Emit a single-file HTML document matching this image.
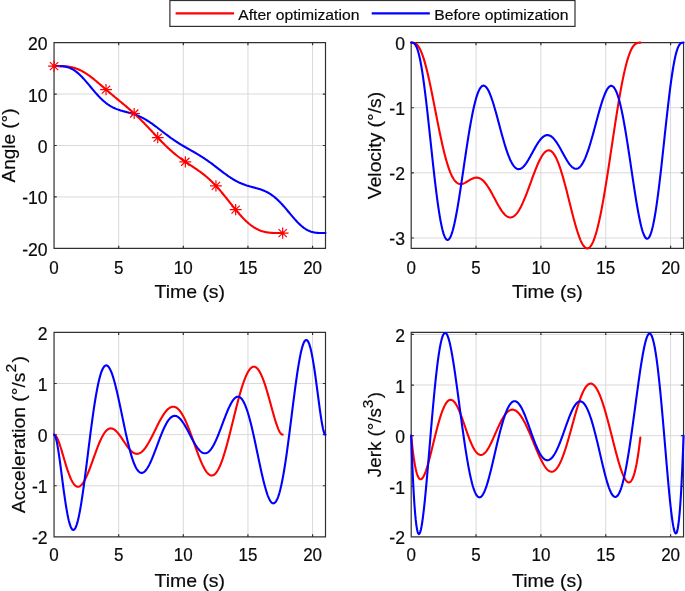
<!DOCTYPE html>
<html><head><meta charset="utf-8"><title>Trajectory optimization</title>
<style>html,body{margin:0;padding:0;background:#fff;overflow:hidden}svg{display:block;will-change:transform}text{font-family:"Liberation Sans",sans-serif;fill:#0a0a0a;stroke:#0a0a0a;stroke-width:0.2px}</style></head>
<body>
<svg width="685" height="591" viewBox="0 0 685 591">
<rect width="685" height="591" fill="#fff"/>
<g>
<path d="M118.68 42.6V248.4M183.31 42.6V248.4M247.94 42.6V248.4M312.57 42.6V248.4M54.05 94.05H325.5M54.05 145.5H325.5M54.05 196.95H325.5" stroke="#d9d9d9" stroke-width="1" fill="none"/>
<path d="M54.05 42.6H325.5V248.4H54.05ZM54.05 248.4v-2.7M54.05 42.6v2.7M118.68 248.4v-2.7M118.68 42.6v2.7M183.31 248.4v-2.7M183.31 42.6v2.7M247.94 248.4v-2.7M247.94 42.6v2.7M312.57 248.4v-2.7M312.57 42.6v2.7M54.05 42.6h2.7M325.5 42.6h-2.7M54.05 94.05h2.7M325.5 94.05h-2.7M54.05 145.5h2.7M325.5 145.5h-2.7M54.05 196.95h2.7M325.5 196.95h-2.7M54.05 248.4h2.7M325.5 248.4h-2.7" stroke="#303030" stroke-width="1.2" fill="none" stroke-linecap="butt"/>
<polyline points="54.05,66.06 54.7,66.06 55.34,66.06 55.99,66.06 56.63,66.06 57.28,66.06 57.92,66.07 58.57,66.07 59.22,66.07 59.86,66.08 60.51,66.09 61.15,66.1 61.8,66.12 62.45,66.14 63.09,66.17 63.74,66.2 64.38,66.23 65.03,66.28 65.67,66.33 66.32,66.38 66.97,66.45 67.61,66.52 68.26,66.6 68.9,66.7 69.55,66.8 70.19,66.91 70.84,67.03 71.49,67.17 72.13,67.31 72.78,67.47 73.42,67.64 74.07,67.82 74.72,68.01 75.36,68.22 76.01,68.44 76.65,68.67 77.3,68.92 77.94,69.17 78.59,69.45 79.24,69.73 79.88,70.03 80.53,70.34 81.17,70.66 81.82,71 82.47,71.35 83.11,71.71 83.76,72.08 84.4,72.46 85.05,72.86 85.69,73.27 86.34,73.69 86.99,74.12 87.63,74.55 88.28,75 88.92,75.46 89.57,75.93 90.21,76.41 90.86,76.89 91.51,77.38 92.15,77.88 92.8,78.39 93.44,78.9 94.09,79.42 94.74,79.95 95.38,80.48 96.03,81.01 96.67,81.55 97.32,82.09 97.96,82.64 98.61,83.19 99.26,83.74 99.9,84.29 100.55,84.84 101.19,85.4 101.84,85.96 102.48,86.52 103.13,87.07 103.78,87.63 104.42,88.19 105.07,88.75 105.71,89.3 106.36,89.86 107.01,90.42 107.65,90.97 108.3,91.52 108.94,92.07 109.59,92.62 110.23,93.17 110.88,93.72 111.53,94.26 112.17,94.81 112.82,95.35 113.46,95.89 114.11,96.43 114.76,96.97 115.4,97.51 116.05,98.04 116.69,98.58 117.34,99.11 117.98,99.64 118.63,100.18 119.28,100.71 119.92,101.24 120.57,101.78 121.21,102.31 121.86,102.84 122.5,103.38 123.15,103.92 123.8,104.45 124.44,104.99 125.09,105.53 125.73,106.08 126.38,106.62 127.03,107.17 127.67,107.73 128.32,108.28 128.96,108.84 129.61,109.4 130.25,109.96 130.9,110.53 131.55,111.11 132.19,111.68 132.84,112.26 133.48,112.85 134.13,113.44 134.77,114.04 135.42,114.64 136.07,115.24 136.71,115.85 137.36,116.46 138,117.08 138.65,117.71 139.3,118.34 139.94,118.97 140.59,119.61 141.23,120.25 141.88,120.9 142.52,121.55 143.17,122.2 143.82,122.86 144.46,123.53 145.11,124.19 145.75,124.86 146.4,125.54 147.04,126.21 147.69,126.89 148.34,127.57 148.98,128.26 149.63,128.94 150.27,129.63 150.92,130.32 151.57,131.01 152.21,131.7 152.86,132.39 153.5,133.08 154.15,133.77 154.79,134.45 155.44,135.14 156.09,135.83 156.73,136.52 157.38,137.2 158.02,137.88 158.67,138.56 159.32,139.23 159.96,139.91 160.61,140.58 161.25,141.24 161.9,141.9 162.54,142.56 163.19,143.21 163.84,143.86 164.48,144.5 165.13,145.13 165.77,145.77 166.42,146.39 167.06,147.01 167.71,147.62 168.36,148.23 169,148.83 169.65,149.42 170.29,150.01 170.94,150.59 171.59,151.16 172.23,151.73 172.88,152.29 173.52,152.84 174.17,153.38 174.81,153.92 175.46,154.45 176.11,154.97 176.75,155.49 177.4,156 178.04,156.51 178.69,157 179.33,157.49 179.98,157.98 180.63,158.46 181.27,158.93 181.92,159.4 182.56,159.86 183.21,160.32 183.86,160.77 184.5,161.22 185.15,161.67 185.79,162.11 186.44,162.55 187.08,162.98 187.73,163.41 188.38,163.84 189.02,164.27 189.67,164.7 190.31,165.12 190.96,165.55 191.61,165.97 192.25,166.4 192.9,166.83 193.54,167.25 194.19,167.68 194.83,168.11 195.48,168.55 196.13,168.99 196.77,169.43 197.42,169.87 198.06,170.32 198.71,170.78 199.35,171.24 200,171.7 200.65,172.17 201.29,172.65 201.94,173.14 202.58,173.63 203.23,174.13 203.88,174.64 204.52,175.15 205.17,175.68 205.81,176.21 206.46,176.75 207.1,177.31 207.75,177.87 208.4,178.44 209.04,179.02 209.69,179.61 210.33,180.21 210.98,180.82 211.62,181.45 212.27,182.08 212.92,182.72 213.56,183.37 214.21,184.03 214.85,184.71 215.5,185.39 216.15,186.08 216.79,186.78 217.44,187.49 218.08,188.21 218.73,188.94 219.37,189.68 220.02,190.43 220.67,191.18 221.31,191.94 221.96,192.71 222.6,193.48 223.25,194.26 223.89,195.05 224.54,195.84 225.19,196.64 225.83,197.44 226.48,198.24 227.12,199.05 227.77,199.86 228.42,200.67 229.06,201.48 229.71,202.29 230.35,203.1 231,203.91 231.64,204.72 232.29,205.53 232.94,206.34 233.58,207.14 234.23,207.93 234.87,208.73 235.52,209.51 236.17,210.3 236.81,211.07 237.46,211.84 238.1,212.6 238.75,213.35 239.39,214.09 240.04,214.82 240.69,215.54 241.33,216.25 241.98,216.95 242.62,217.64 243.27,218.32 243.91,218.98 244.56,219.63 245.21,220.26 245.85,220.88 246.5,221.49 247.14,222.08 247.79,222.65 248.44,223.21 249.08,223.76 249.73,224.28 250.37,224.8 251.02,225.29 251.66,225.77 252.31,226.23 252.96,226.67 253.6,227.1 254.25,227.51 254.89,227.9 255.54,228.28 256.18,228.64 256.83,228.98 257.48,229.31 258.12,229.61 258.77,229.91 259.41,230.18 260.06,230.44 260.71,230.69 261.35,230.92 262,231.13 262.64,231.33 263.29,231.52 263.93,231.69 264.58,231.85 265.23,231.99 265.87,232.13 266.52,232.25 267.16,232.36 267.81,232.46 268.46,232.55 269.1,232.63 269.75,232.7 270.39,232.76 271.04,232.81 271.68,232.86 272.33,232.9 272.98,232.93 273.62,232.96 274.27,232.99 274.91,233 275.56,233.02 276.2,233.03 276.85,233.04 277.5,233.05 278.14,233.05 278.79,233.05 279.43,233.06 280.08,233.06 280.73,233.06 281.37,233.06 282.02,233.06 282.66,233.06" fill="none" stroke="#ff0000" stroke-width="2.1" stroke-linejoin="round" stroke-linecap="round"/>
<polyline points="54.05,66.06 54.7,66.06 55.34,66.06 55.99,66.06 56.64,66.06 57.28,66.07 57.93,66.07 58.57,66.08 59.22,66.09 59.87,66.11 60.51,66.14 61.16,66.17 61.81,66.22 62.45,66.27 63.1,66.33 63.74,66.41 64.39,66.5 65.04,66.61 65.68,66.73 66.33,66.87 66.98,67.03 67.62,67.21 68.27,67.41 68.92,67.63 69.56,67.87 70.21,68.13 70.85,68.42 71.5,68.73 72.15,69.06 72.79,69.42 73.44,69.8 74.09,70.21 74.73,70.64 75.38,71.09 76.02,71.56 76.67,72.06 77.32,72.59 77.96,73.13 78.61,73.69 79.26,74.28 79.9,74.89 80.55,75.51 81.19,76.16 81.84,76.82 82.49,77.5 83.13,78.19 83.78,78.9 84.43,79.62 85.07,80.35 85.72,81.09 86.37,81.84 87.01,82.6 87.66,83.37 88.3,84.14 88.95,84.91 89.6,85.69 90.24,86.47 90.89,87.25 91.54,88.03 92.18,88.8 92.83,89.57 93.47,90.34 94.12,91.1 94.77,91.86 95.41,92.6 96.06,93.34 96.71,94.07 97.35,94.79 98,95.49 98.65,96.18 99.29,96.86 99.94,97.53 100.58,98.18 101.23,98.81 101.88,99.43 102.52,100.04 103.17,100.63 103.82,101.2 104.46,101.75 105.11,102.29 105.75,102.81 106.4,103.31 107.05,103.79 107.69,104.26 108.34,104.71 108.99,105.14 109.63,105.56 110.28,105.95 110.93,106.34 111.57,106.7 112.22,107.05 112.86,107.39 113.51,107.71 114.16,108.02 114.8,108.31 115.45,108.59 116.1,108.86 116.74,109.12 117.39,109.36 118.03,109.6 118.68,109.82 119.33,110.04 119.97,110.25 120.62,110.45 121.27,110.64 121.91,110.83 122.56,111.02 123.21,111.2 123.85,111.37 124.5,111.55 125.14,111.72 125.79,111.89 126.44,112.06 127.08,112.23 127.73,112.4 128.38,112.57 129.02,112.75 129.67,112.93 130.31,113.11 130.96,113.3 131.61,113.49 132.25,113.68 132.9,113.89 133.55,114.1 134.19,114.31 134.84,114.54 135.49,114.77 136.13,115.01 136.78,115.26 137.42,115.51 138.07,115.78 138.72,116.05 139.36,116.34 140.01,116.63 140.66,116.93 141.3,117.25 141.95,117.57 142.59,117.9 143.24,118.24 143.89,118.59 144.53,118.95 145.18,119.32 145.83,119.7 146.47,120.09 147.12,120.48 147.76,120.89 148.41,121.3 149.06,121.72 149.7,122.15 150.35,122.59 151,123.03 151.64,123.48 152.29,123.93 152.94,124.4 153.58,124.86 154.23,125.34 154.87,125.81 155.52,126.29 156.17,126.78 156.81,127.27 157.46,127.76 158.11,128.25 158.75,128.75 159.4,129.25 160.04,129.74 160.69,130.24 161.34,130.74 161.98,131.24 162.63,131.74 163.28,132.24 163.92,132.74 164.57,133.23 165.22,133.73 165.86,134.22 166.51,134.71 167.15,135.19 167.8,135.68 168.45,136.16 169.09,136.63 169.74,137.1 170.39,137.57 171.03,138.04 171.68,138.49 172.32,138.95 172.97,139.4 173.62,139.85 174.26,140.29 174.91,140.72 175.56,141.15 176.2,141.58 176.85,142 177.5,142.42 178.14,142.83 178.79,143.24 179.43,143.65 180.08,144.05 180.73,144.44 181.37,144.84 182.02,145.22 182.67,145.61 183.31,145.99 183.96,146.37 184.6,146.75 185.25,147.12 185.9,147.49 186.54,147.86 187.19,148.23 187.84,148.6 188.48,148.97 189.13,149.33 189.77,149.7 190.42,150.06 191.07,150.43 191.71,150.8 192.36,151.16 193.01,151.53 193.65,151.9 194.3,152.27 194.95,152.65 195.59,153.02 196.24,153.4 196.88,153.78 197.53,154.17 198.18,154.56 198.82,154.95 199.47,155.34 200.12,155.74 200.76,156.14 201.41,156.55 202.05,156.96 202.7,157.38 203.35,157.8 203.99,158.23 204.64,158.66 205.29,159.09 205.93,159.53 206.58,159.98 207.23,160.43 207.87,160.88 208.52,161.34 209.16,161.8 209.81,162.27 210.46,162.74 211.1,163.21 211.75,163.69 212.4,164.17 213.04,164.65 213.69,165.14 214.33,165.63 214.98,166.12 215.63,166.62 216.27,167.11 216.92,167.61 217.57,168.11 218.21,168.61 218.86,169.11 219.51,169.6 220.15,170.1 220.8,170.6 221.44,171.09 222.09,171.58 222.74,172.08 223.38,172.56 224.03,173.05 224.68,173.53 225.32,174 225.97,174.47 226.61,174.94 227.26,175.4 227.91,175.86 228.55,176.31 229.2,176.75 229.85,177.18 230.49,177.61 231.14,178.03 231.79,178.45 232.43,178.85 233.08,179.25 233.72,179.63 234.37,180.01 235.02,180.38 235.66,180.74 236.31,181.09 236.96,181.43 237.6,181.77 238.25,182.09 238.89,182.4 239.54,182.7 240.19,183 240.83,183.28 241.48,183.56 242.13,183.82 242.77,184.08 243.42,184.33 244.06,184.57 244.71,184.8 245.36,185.03 246,185.24 246.65,185.46 247.3,185.66 247.94,185.86 248.59,186.05 249.24,186.24 249.88,186.42 250.53,186.6 251.17,186.78 251.82,186.95 252.47,187.12 253.11,187.3 253.76,187.47 254.41,187.64 255.05,187.81 255.7,187.98 256.34,188.16 256.99,188.34 257.64,188.53 258.28,188.71 258.93,188.91 259.58,189.11 260.22,189.32 260.87,189.54 261.52,189.76 262.16,190 262.81,190.24 263.45,190.5 264.1,190.77 264.75,191.05 265.39,191.34 266.04,191.65 266.69,191.97 267.33,192.3 267.98,192.65 268.62,193.02 269.27,193.4 269.92,193.79 270.56,194.21 271.21,194.64 271.86,195.09 272.5,195.55 273.15,196.03 273.8,196.53 274.44,197.05 275.09,197.58 275.73,198.13 276.38,198.7 277.03,199.28 277.67,199.88 278.32,200.5 278.97,201.13 279.61,201.78 280.26,202.44 280.9,203.12 281.55,203.81 282.2,204.51 282.84,205.22 283.49,205.94 284.14,206.68 284.78,207.42 285.43,208.17 286.08,208.93 286.72,209.69 287.37,210.46 288.01,211.23 288.66,212 289.31,212.78 289.95,213.55 290.6,214.32 291.25,215.09 291.89,215.86 292.54,216.62 293.18,217.38 293.83,218.12 294.48,218.86 295.12,219.59 295.77,220.3 296.42,221 297.06,221.69 297.71,222.37 298.36,223.02 299,223.66 299.65,224.29 300.29,224.89 300.94,225.47 301.59,226.03 302.23,226.57 302.88,227.09 303.53,227.59 304.17,228.06 304.82,228.51 305.46,228.94 306.11,229.34 306.76,229.72 307.4,230.07 308.05,230.41 308.7,230.71 309.34,231 309.99,231.26 310.63,231.5 311.28,231.72 311.93,231.92 312.57,232.09 313.22,232.25 313.87,232.39 314.51,232.51 315.16,232.62 315.81,232.71 316.45,232.79 317.1,232.85 317.74,232.9 318.39,232.95 319.04,232.98 319.68,233.01 320.33,233.02 320.98,233.04 321.62,233.05 322.27,233.05 322.91,233.06 323.56,233.06 324.21,233.06 324.85,233.06 325.5,233.06" fill="none" stroke="#0000ff" stroke-width="2.1" stroke-linejoin="round" stroke-linecap="round"/>
<path d="M54.05 60.46V71.66M48.15 66.06H59.95M49.88 62.06L58.22 70.06M49.88 70.06L58.22 62.06M106.03 83.97V95.17M100.13 89.57H111.93M101.85 85.57L110.2 93.57M101.85 93.57L110.2 85.57M134.18 107.89V119.09M128.28 113.49H140.08M130.01 109.49L138.35 117.49M130.01 117.49L138.35 109.49M157.73 131.97V143.17M151.83 137.57H163.63M153.56 133.57L161.9 141.57M153.56 141.57L161.9 133.57M185.34 156.2V167.4M179.44 161.8H191.24M181.17 157.8L189.51 165.8M181.17 165.8L189.51 157.8M215.94 180.26V191.46M210.04 185.86H221.84M211.77 181.86L220.11 189.86M211.77 189.86L220.11 181.86M235.66 204.09V215.29M229.76 209.69H241.56M231.49 205.69L239.83 213.69M231.49 213.69L239.83 205.69M282.66 227.46V238.66M276.76 233.06H288.56M278.49 229.06L286.83 237.06M278.49 237.06L286.83 229.06" stroke="#ff0000" stroke-width="1.2" fill="none"/>
<text transform="translate(54.05 273.5) scale(0.965 1)" font-size="17.6" text-anchor="middle">0</text>
<text transform="translate(118.68 273.5) scale(0.965 1)" font-size="17.6" text-anchor="middle">5</text>
<text transform="translate(183.31 273.5) scale(0.965 1)" font-size="17.6" text-anchor="middle">10</text>
<text transform="translate(247.94 273.5) scale(0.965 1)" font-size="17.6" text-anchor="middle">15</text>
<text transform="translate(312.57 273.5) scale(0.965 1)" font-size="17.6" text-anchor="middle">20</text>
<text transform="translate(47.65 50.1) scale(1.0 1)" font-size="17.6" text-anchor="end">20</text>
<text transform="translate(47.65 101.55) scale(1.0 1)" font-size="17.6" text-anchor="end">10</text>
<text transform="translate(47.65 153) scale(1.0 1)" font-size="17.6" text-anchor="end">0</text>
<text transform="translate(47.65 204.45) scale(1.0 1)" font-size="17.6" text-anchor="end">-10</text>
<text transform="translate(47.65 255.9) scale(1.0 1)" font-size="17.6" text-anchor="end">-20</text>
<text transform="translate(189.78 297.6) scale(1.0 0.958)" font-size="19.45" text-anchor="middle">Time (s)</text>
<text transform="translate(14.7 145.5) rotate(-90) scale(1 0.958)" font-size="18.95" text-anchor="middle">Angle (°)</text>
</g>
<g>
<path d="M476.05 42.6V248.4M540.89 42.6V248.4M605.74 42.6V248.4M670.58 42.6V248.4M411.2 107.73H683.55M411.2 172.85H683.55M411.2 237.98H683.55" stroke="#d9d9d9" stroke-width="1" fill="none"/>
<path d="M411.2 42.6H683.55V248.4H411.2ZM411.2 248.4v-2.7M411.2 42.6v2.7M476.05 248.4v-2.7M476.05 42.6v2.7M540.89 248.4v-2.7M540.89 42.6v2.7M605.74 248.4v-2.7M605.74 42.6v2.7M670.58 248.4v-2.7M670.58 42.6v2.7M411.2 42.6h2.7M683.55 42.6h-2.7M411.2 107.73h2.7M683.55 107.73h-2.7M411.2 172.85h2.7M683.55 172.85h-2.7M411.2 237.98h2.7M683.55 237.98h-2.7" stroke="#303030" stroke-width="1.2" fill="none" stroke-linecap="butt"/>
<polyline points="411.2,42.6 411.85,42.6 412.5,42.63 413.14,42.69 413.79,42.81 414.44,43.01 415.09,43.28 415.74,43.66 416.38,44.14 417.03,44.74 417.68,45.46 418.33,46.31 418.98,47.29 419.62,48.41 420.27,49.67 420.92,51.07 421.57,52.61 422.21,54.29 422.86,56.1 423.51,58.05 424.16,60.13 424.81,62.34 425.45,64.67 426.1,67.12 426.75,69.67 427.4,72.34 428.05,75.1 428.69,77.95 429.34,80.88 429.99,83.89 430.64,86.97 431.29,90.11 431.93,93.29 432.58,96.52 433.23,99.79 433.88,103.08 434.53,106.39 435.17,109.7 435.82,113.02 436.47,116.32 437.12,119.61 437.77,122.88 438.41,126.11 439.06,129.31 439.71,132.46 440.36,135.55 441.01,138.59 441.65,141.55 442.3,144.45 442.95,147.26 443.6,149.99 444.24,152.63 444.89,155.18 445.54,157.63 446.19,159.98 446.84,162.23 447.48,164.36 448.13,166.39 448.78,168.31 449.43,170.11 450.08,171.8 450.72,173.37 451.37,174.83 452.02,176.17 452.67,177.4 453.32,178.51 453.96,179.52 454.61,180.41 455.26,181.2 455.91,181.88 456.56,182.47 457.2,182.95 457.85,183.34 458.5,183.64 459.15,183.86 459.8,183.99 460.44,184.05 461.09,184.04 461.74,183.97 462.39,183.83 463.04,183.65 463.68,183.41 464.33,183.14 464.98,182.82 465.63,182.48 466.27,182.12 466.92,181.74 467.57,181.35 468.22,180.95 468.87,180.55 469.51,180.16 470.16,179.78 470.81,179.41 471.46,179.07 472.11,178.75 472.75,178.47 473.4,178.22 474.05,178.01 474.7,177.84 475.35,177.72 475.99,177.64 476.64,177.62 477.29,177.66 477.94,177.75 478.59,177.9 479.23,178.1 479.88,178.37 480.53,178.71 481.18,179.1 481.83,179.55 482.47,180.07 483.12,180.65 483.77,181.28 484.42,181.98 485.07,182.73 485.71,183.54 486.36,184.4 487.01,185.31 487.66,186.27 488.3,187.27 488.95,188.31 489.6,189.39 490.25,190.5 490.9,191.64 491.54,192.8 492.19,193.99 492.84,195.19 493.49,196.4 494.14,197.62 494.78,198.84 495.43,200.06 496.08,201.27 496.73,202.47 497.38,203.65 498.02,204.81 498.67,205.94 499.32,207.05 499.97,208.12 500.62,209.15 501.26,210.13 501.91,211.07 502.56,211.96 503.21,212.79 503.86,213.57 504.5,214.28 505.15,214.93 505.8,215.51 506.45,216.02 507.1,216.45 507.74,216.82 508.39,217.1 509.04,217.31 509.69,217.43 510.33,217.48 510.98,217.44 511.63,217.32 512.28,217.12 512.93,216.83 513.57,216.46 514.22,216.01 514.87,215.47 515.52,214.85 516.17,214.15 516.81,213.38 517.46,212.52 518.11,211.59 518.76,210.58 519.41,209.51 520.05,208.36 520.7,207.15 521.35,205.87 522,204.53 522.65,203.14 523.29,201.69 523.94,200.19 524.59,198.64 525.24,197.05 525.89,195.42 526.53,193.76 527.18,192.07 527.83,190.35 528.48,188.61 529.12,186.85 529.77,185.08 530.42,183.3 531.07,181.52 531.72,179.75 532.36,177.98 533.01,176.22 533.66,174.49 534.31,172.77 534.96,171.08 535.6,169.43 536.25,167.81 536.9,166.24 537.55,164.71 538.2,163.24 538.84,161.82 539.49,160.47 540.14,159.18 540.79,157.96 541.44,156.82 542.08,155.76 542.73,154.79 543.38,153.9 544.03,153.1 544.68,152.4 545.32,151.8 545.97,151.29 546.62,150.89 547.27,150.6 547.92,150.42 548.56,150.35 549.21,150.39 549.86,150.54 550.51,150.81 551.15,151.19 551.8,151.69 552.45,152.3 553.1,153.03 553.75,153.88 554.39,154.84 555.04,155.91 555.69,157.09 556.34,158.39 556.99,159.79 557.63,161.29 558.28,162.9 558.93,164.6 559.58,166.4 560.23,168.29 560.87,170.26 561.52,172.32 562.17,174.46 562.82,176.66 563.47,178.94 564.11,181.27 564.76,183.66 565.41,186.1 566.06,188.58 566.71,191.1 567.35,193.65 568,196.22 568.65,198.81 569.3,201.4 569.95,204 570.59,206.59 571.24,209.16 571.89,211.72 572.54,214.24 573.18,216.73 573.83,219.18 574.48,221.57 575.13,223.91 575.78,226.18 576.42,228.37 577.07,230.49 577.72,232.51 578.37,234.45 579.02,236.28 579.66,238 580.31,239.61 580.96,241.1 581.61,242.47 582.26,243.71 582.9,244.81 583.55,245.77 584.2,246.59 584.85,247.25 585.5,247.77 586.14,248.14 586.79,248.34 587.44,248.39 588.09,248.27 588.74,247.99 589.38,247.54 590.03,246.93 590.68,246.15 591.33,245.2 591.98,244.08 592.62,242.8 593.27,241.36 593.92,239.75 594.57,237.97 595.21,236.04 595.86,233.95 596.51,231.7 597.16,229.31 597.81,226.76 598.45,224.07 599.1,221.25 599.75,218.28 600.4,215.19 601.05,211.97 601.69,208.63 602.34,205.18 602.99,201.62 603.64,197.96 604.29,194.2 604.93,190.35 605.58,186.42 606.23,182.42 606.88,178.35 607.53,174.23 608.17,170.05 608.82,165.82 609.47,161.56 610.12,157.27 610.77,152.96 611.41,148.64 612.06,144.32 612.71,140 613.36,135.69 614.01,131.4 614.65,127.14 615.3,122.92 615.95,118.75 616.6,114.62 617.24,110.56 617.89,106.57 618.54,102.65 619.19,98.82 619.84,95.07 620.48,91.43 621.13,87.89 621.78,84.45 622.43,81.14 623.08,77.94 623.72,74.87 624.37,71.93 625.02,69.13 625.67,66.47 626.32,63.95 626.96,61.57 627.61,59.34 628.26,57.26 628.91,55.33 629.56,53.55 630.2,51.92 630.85,50.44 631.5,49.11 632.15,47.92 632.8,46.87 633.44,45.95 634.09,45.17 634.74,44.51 635.39,43.97 636.03,43.54 636.68,43.2 637.33,42.95 637.98,42.79 638.63,42.68 639.27,42.62 639.92,42.6 640.57,42.6" fill="none" stroke="#ff0000" stroke-width="2.1" stroke-linejoin="round" stroke-linecap="round"/>
<polyline points="411.2,42.6 411.85,42.61 412.5,42.68 413.15,42.85 413.79,43.17 414.44,43.69 415.09,44.42 415.74,45.4 416.39,46.66 417.04,48.2 417.68,50.04 418.33,52.19 418.98,54.66 419.63,57.45 420.28,60.54 420.93,63.95 421.58,67.66 422.22,71.66 422.87,75.94 423.52,80.48 424.17,85.27 424.82,90.29 425.47,95.51 426.11,100.92 426.76,106.5 427.41,112.22 428.06,118.06 428.71,123.99 429.36,129.99 430.01,136.04 430.65,142.11 431.3,148.17 431.95,154.2 432.6,160.18 433.25,166.08 433.9,171.88 434.54,177.55 435.19,183.08 435.84,188.45 436.49,193.63 437.14,198.6 437.79,203.35 438.44,207.86 439.08,212.12 439.73,216.11 440.38,219.82 441.03,223.24 441.68,226.36 442.33,229.17 442.97,231.66 443.62,233.83 444.27,235.67 444.92,237.18 445.57,238.36 446.22,239.21 446.86,239.74 447.51,239.93 448.16,239.81 448.81,239.37 449.46,238.62 450.11,237.57 450.76,236.23 451.4,234.6 452.05,232.7 452.7,230.54 453.35,228.13 454,225.48 454.65,222.61 455.29,219.54 455.94,216.27 456.59,212.81 457.24,209.2 457.89,205.43 458.54,201.53 459.19,197.51 459.83,193.39 460.48,189.19 461.13,184.91 461.78,180.57 462.43,176.19 463.08,171.79 463.72,167.38 464.37,162.97 465.02,158.59 465.67,154.23 466.32,149.92 466.97,145.67 467.62,141.49 468.26,137.4 468.91,133.4 469.56,129.51 470.21,125.74 470.86,122.09 471.51,118.59 472.15,115.22 472.8,112.02 473.45,108.97 474.1,106.09 474.75,103.39 475.4,100.87 476.05,98.53 476.69,96.38 477.34,94.43 477.99,92.66 478.64,91.1 479.29,89.73 479.94,88.56 480.58,87.59 481.23,86.82 481.88,86.24 482.53,85.86 483.18,85.66 483.83,85.66 484.48,85.84 485.12,86.2 485.77,86.73 486.42,87.43 487.07,88.3 487.72,89.32 488.37,90.49 489.01,91.8 489.66,93.25 490.31,94.82 490.96,96.51 491.61,98.32 492.26,100.22 492.9,102.22 493.55,104.3 494.2,106.45 494.85,108.68 495.5,110.96 496.15,113.28 496.8,115.65 497.44,118.04 498.09,120.46 498.74,122.89 499.39,125.33 500.04,127.76 500.69,130.17 501.33,132.57 501.98,134.94 502.63,137.27 503.28,139.56 503.93,141.8 504.58,143.99 505.23,146.11 505.87,148.16 506.52,150.14 507.17,152.04 507.82,153.86 508.47,155.59 509.12,157.23 509.76,158.77 510.41,160.21 511.06,161.54 511.71,162.78 512.36,163.9 513.01,164.92 513.66,165.83 514.3,166.63 514.95,167.31 515.6,167.89 516.25,168.36 516.9,168.71 517.55,168.96 518.19,169.1 518.84,169.14 519.49,169.07 520.14,168.91 520.79,168.65 521.44,168.29 522.09,167.84 522.73,167.31 523.38,166.7 524.03,166.01 524.68,165.25 525.33,164.42 525.98,163.53 526.62,162.58 527.27,161.58 527.92,160.54 528.57,159.46 529.22,158.34 529.87,157.19 530.52,156.03 531.16,154.85 531.81,153.65 532.46,152.46 533.11,151.26 533.76,150.07 534.41,148.9 535.05,147.74 535.7,146.61 536.35,145.51 537,144.44 537.65,143.4 538.3,142.42 538.95,141.48 539.59,140.59 540.24,139.76 540.89,138.98 541.54,138.27 542.19,137.63 542.84,137.05 543.48,136.55 544.13,136.11 544.78,135.75 545.43,135.47 546.08,135.27 546.73,135.14 547.38,135.09 548.02,135.12 548.67,135.23 549.32,135.42 549.97,135.69 550.62,136.03 551.27,136.44 551.91,136.93 552.56,137.49 553.21,138.12 553.86,138.82 554.51,139.58 555.16,140.39 555.8,141.27 556.45,142.19 557.1,143.17 557.75,144.19 558.4,145.24 559.05,146.33 559.7,147.46 560.34,148.6 560.99,149.77 561.64,150.94 562.29,152.13 562.94,153.32 563.59,154.5 564.23,155.68 564.88,156.84 565.53,157.98 566.18,159.09 566.83,160.17 567.48,161.21 568.13,162.21 568.77,163.15 569.42,164.04 570.07,164.87 570.72,165.64 571.37,166.33 572.02,166.94 572.66,167.48 573.31,167.93 573.96,168.29 574.61,168.55 575.26,168.73 575.91,168.8 576.56,168.77 577.2,168.64 577.85,168.4 578.5,168.05 579.15,167.6 579.8,167.03 580.45,166.36 581.09,165.57 581.74,164.68 582.39,163.67 583.04,162.56 583.69,161.34 584.34,160.02 584.99,158.59 585.63,157.07 586.28,155.45 586.93,153.74 587.58,151.94 588.23,150.05 588.88,148.09 589.52,146.05 590.17,143.95 590.82,141.78 591.47,139.56 592.12,137.28 592.77,134.97 593.42,132.61 594.06,130.23 594.71,127.83 595.36,125.42 596.01,123 596.66,120.58 597.31,118.18 597.95,115.8 598.6,113.44 599.25,111.13 599.9,108.86 600.55,106.65 601.2,104.5 601.85,102.43 602.49,100.44 603.14,98.55 603.79,96.75 604.44,95.06 605.09,93.49 605.74,92.05 606.38,90.73 607.03,89.56 607.68,88.54 608.33,87.67 608.98,86.97 609.63,86.43 610.27,86.07 610.92,85.88 611.57,85.88 612.22,86.06 612.87,86.43 613.52,86.99 614.17,87.75 614.81,88.71 615.46,89.86 616.11,91.21 616.76,92.75 617.41,94.49 618.06,96.43 618.7,98.55 619.35,100.87 620,103.36 620.65,106.04 621.3,108.89 621.95,111.9 622.6,115.08 623.24,118.41 623.89,121.88 624.54,125.5 625.19,129.24 625.84,133.09 626.49,137.05 627.13,141.11 627.78,145.26 628.43,149.47 629.08,153.74 629.73,158.06 630.38,162.42 631.03,166.79 631.67,171.16 632.32,175.53 632.97,179.87 633.62,184.17 634.27,188.42 634.92,192.59 635.56,196.68 636.21,200.66 636.86,204.53 637.51,208.27 638.16,211.86 638.81,215.28 639.46,218.53 640.1,221.58 640.75,224.42 641.4,227.05 642.05,229.44 642.7,231.58 643.35,233.47 643.99,235.08 644.64,236.41 645.29,237.45 645.94,238.19 646.59,238.62 647.24,238.74 647.89,238.55 648.53,238.02 649.18,237.17 649.83,236 650.48,234.49 651.13,232.66 651.78,230.5 652.42,228.02 653.07,225.23 653.72,222.13 654.37,218.73 655.02,215.05 655.67,211.08 656.32,206.85 656.96,202.36 657.61,197.64 658.26,192.69 658.91,187.55 659.56,182.21 660.21,176.72 660.85,171.08 661.5,165.31 662.15,159.45 662.8,153.51 663.45,147.51 664.1,141.49 664.74,135.46 665.39,129.45 666.04,123.49 666.69,117.59 667.34,111.79 667.99,106.1 668.64,100.56 669.28,95.18 669.93,89.99 670.58,85 671.23,80.24 671.88,75.73 672.53,71.48 673.17,67.5 673.82,63.82 674.47,60.43 675.12,57.35 675.77,54.59 676.42,52.13 677.07,50 677.71,48.16 678.36,46.63 679.01,45.39 679.66,44.41 680.31,43.68 680.96,43.17 681.6,42.85 682.25,42.68 682.9,42.61 683.55,42.6" fill="none" stroke="#0000ff" stroke-width="2.1" stroke-linejoin="round" stroke-linecap="round"/>
<text transform="translate(411.2 273.5) scale(0.965 1)" font-size="17.6" text-anchor="middle">0</text>
<text transform="translate(476.05 273.5) scale(0.965 1)" font-size="17.6" text-anchor="middle">5</text>
<text transform="translate(540.89 273.5) scale(0.965 1)" font-size="17.6" text-anchor="middle">10</text>
<text transform="translate(605.74 273.5) scale(0.965 1)" font-size="17.6" text-anchor="middle">15</text>
<text transform="translate(670.58 273.5) scale(0.965 1)" font-size="17.6" text-anchor="middle">20</text>
<text transform="translate(405 50.1) scale(1.0 1)" font-size="17.6" text-anchor="end">0</text>
<text transform="translate(405 115.23) scale(1.0 1)" font-size="17.6" text-anchor="end">-1</text>
<text transform="translate(405 180.35) scale(1.0 1)" font-size="17.6" text-anchor="end">-2</text>
<text transform="translate(405 245.48) scale(1.0 1)" font-size="17.6" text-anchor="end">-3</text>
<text transform="translate(547.38 297.6) scale(1.0 0.958)" font-size="19.45" text-anchor="middle">Time (s)</text>
<text transform="translate(381.3 145.5) rotate(-90) scale(1 0.958)" font-size="19.3" text-anchor="middle">Velocity (°/s)</text>
</g>
<g>
<path d="M118.68 332.4V536.9M183.31 332.4V536.9M247.94 332.4V536.9M312.57 332.4V536.9M54.05 383.52H325.5M54.05 434.65H325.5M54.05 485.77H325.5" stroke="#d9d9d9" stroke-width="1" fill="none"/>
<path d="M54.05 332.4H325.5V536.9H54.05ZM54.05 536.9v-2.7M54.05 332.4v2.7M118.68 536.9v-2.7M118.68 332.4v2.7M183.31 536.9v-2.7M183.31 332.4v2.7M247.94 536.9v-2.7M247.94 332.4v2.7M312.57 536.9v-2.7M312.57 332.4v2.7M54.05 332.4h2.7M325.5 332.4h-2.7M54.05 383.52h2.7M325.5 383.52h-2.7M54.05 434.65h2.7M325.5 434.65h-2.7M54.05 485.77h2.7M325.5 485.77h-2.7M54.05 536.9h2.7M325.5 536.9h-2.7" stroke="#303030" stroke-width="1.2" fill="none" stroke-linecap="butt"/>
<polyline points="54.05,434.65 54.7,434.82 55.34,435.3 55.99,436.06 56.63,437.08 57.28,438.32 57.92,439.75 58.57,441.36 59.22,443.12 59.86,445 60.51,446.98 61.15,449.05 61.8,451.17 62.45,453.34 63.09,455.53 63.74,457.73 64.38,459.92 65.03,462.09 65.67,464.23 66.32,466.32 66.97,468.35 67.61,470.31 68.26,472.19 68.9,473.98 69.55,475.68 70.19,477.27 70.84,478.75 71.49,480.12 72.13,481.37 72.78,482.49 73.42,483.49 74.07,484.36 74.72,485.09 75.36,485.69 76.01,486.16 76.65,486.5 77.3,486.7 77.94,486.76 78.59,486.7 79.24,486.51 79.88,486.19 80.53,485.74 81.17,485.18 81.82,484.5 82.47,483.71 83.11,482.81 83.76,481.81 84.4,480.7 85.05,479.51 85.69,478.23 86.34,476.87 86.99,475.44 87.63,473.93 88.28,472.37 88.92,470.75 89.57,469.08 90.21,467.37 90.86,465.63 91.51,463.86 92.15,462.07 92.8,460.27 93.44,458.46 94.09,456.65 94.74,454.85 95.38,453.06 96.03,451.3 96.67,449.56 97.32,447.86 97.96,446.2 98.61,444.58 99.26,443.02 99.9,441.51 100.55,440.07 101.19,438.7 101.84,437.4 102.48,436.17 103.13,435.03 103.78,433.97 104.42,432.99 105.07,432.11 105.71,431.32 106.36,430.62 107.01,430.02 107.65,429.51 108.3,429.1 108.94,428.78 109.59,428.55 110.23,428.42 110.88,428.38 111.53,428.43 112.17,428.57 112.82,428.78 113.46,429.08 114.11,429.46 114.76,429.91 115.4,430.43 116.05,431.01 116.69,431.66 117.34,432.36 117.98,433.11 118.63,433.91 119.28,434.75 119.92,435.62 120.57,436.53 121.21,437.46 121.86,438.4 122.5,439.37 123.15,440.34 123.8,441.31 124.44,442.28 125.09,443.25 125.73,444.2 126.38,445.13 127.03,446.03 127.67,446.91 128.32,447.75 128.96,448.56 129.61,449.32 130.25,450.04 130.9,450.7 131.55,451.31 132.19,451.86 132.84,452.34 133.48,452.77 134.13,453.12 134.77,453.41 135.42,453.62 136.07,453.76 136.71,453.83 137.36,453.83 138,453.75 138.65,453.6 139.3,453.37 139.94,453.07 140.59,452.69 141.23,452.25 141.88,451.73 142.52,451.15 143.17,450.5 143.82,449.78 144.46,449.01 145.11,448.17 145.75,447.28 146.4,446.34 147.04,445.34 147.69,444.3 148.34,443.22 148.98,442.09 149.63,440.93 150.27,439.74 150.92,438.52 151.57,437.27 152.21,436 152.86,434.72 153.5,433.42 154.15,432.11 154.79,430.8 155.44,429.48 156.09,428.18 156.73,426.87 157.38,425.58 158.02,424.3 158.67,423.05 159.32,421.81 159.96,420.6 160.61,419.43 161.25,418.28 161.9,417.17 162.54,416.1 163.19,415.08 163.84,414.1 164.48,413.17 165.13,412.29 165.77,411.47 166.42,410.71 167.06,410 167.71,409.36 168.36,408.78 169,408.27 169.65,407.83 170.29,407.46 170.94,407.16 171.59,406.93 172.23,406.78 172.88,406.7 173.52,406.71 174.17,406.79 174.81,406.95 175.46,407.18 176.11,407.5 176.75,407.9 177.4,408.38 178.04,408.93 178.69,409.57 179.33,410.28 179.98,411.07 180.63,411.93 181.27,412.88 181.92,413.89 182.56,414.98 183.21,416.13 183.86,417.35 184.5,418.64 185.15,419.99 185.79,421.4 186.44,422.87 187.08,424.38 187.73,425.95 188.38,427.56 189.02,429.22 189.67,430.91 190.31,432.63 190.96,434.39 191.61,436.16 192.25,437.95 192.9,439.76 193.54,441.58 194.19,443.4 194.83,445.22 195.48,447.03 196.13,448.83 196.77,450.62 197.42,452.38 198.06,454.11 198.71,455.81 199.35,457.47 200,459.09 200.65,460.66 201.29,462.17 201.94,463.63 202.58,465.02 203.23,466.35 203.88,467.6 204.52,468.77 205.17,469.86 205.81,470.87 206.46,471.79 207.1,472.61 207.75,473.33 208.4,473.95 209.04,474.47 209.69,474.88 210.33,475.19 210.98,475.38 211.62,475.45 212.27,475.41 212.92,475.26 213.56,474.98 214.21,474.59 214.85,474.07 215.5,473.44 216.15,472.69 216.79,471.82 217.44,470.84 218.08,469.74 218.73,468.53 219.37,467.2 220.02,465.77 220.67,464.23 221.31,462.6 221.96,460.86 222.6,459.03 223.25,457.11 223.89,455.11 224.54,453.03 225.19,450.87 225.83,448.64 226.48,446.34 227.12,443.99 227.77,441.58 228.42,439.12 229.06,436.62 229.71,434.09 230.35,431.52 231,428.93 231.64,426.32 232.29,423.7 232.94,421.07 233.58,418.45 234.23,415.83 234.87,413.22 235.52,410.63 236.17,408.07 236.81,405.53 237.46,403.04 238.1,400.58 238.75,398.17 239.39,395.82 240.04,393.53 240.69,391.3 241.33,389.14 241.98,387.05 242.62,385.04 243.27,383.12 243.91,381.28 244.56,379.54 245.21,377.89 245.85,376.34 246.5,374.9 247.14,373.56 247.79,372.34 248.44,371.22 249.08,370.23 249.73,369.35 250.37,368.6 251.02,367.97 251.66,367.46 252.31,367.08 252.96,366.83 253.6,366.7 254.25,366.71 254.89,366.84 255.54,367.1 256.18,367.5 256.83,368.02 257.48,368.66 258.12,369.44 258.77,370.33 259.41,371.35 260.06,372.49 260.71,373.74 261.35,375.1 262,376.58 262.64,378.15 263.29,379.83 263.93,381.61 264.58,383.47 265.23,385.42 265.87,387.44 266.52,389.54 267.16,391.7 267.81,393.91 268.46,396.17 269.1,398.47 269.75,400.8 270.39,403.15 271.04,405.51 271.68,407.87 272.33,410.22 272.98,412.54 273.62,414.83 274.27,417.06 274.91,419.23 275.56,421.33 276.2,423.33 276.85,425.23 277.5,427 278.14,428.64 278.79,430.11 279.43,431.42 280.08,432.53 280.73,433.42 281.37,434.09 282.02,434.51 282.66,434.65" fill="none" stroke="#ff0000" stroke-width="2.1" stroke-linejoin="round" stroke-linecap="round"/>
<polyline points="54.05,434.65 54.7,435.11 55.34,436.4 55.99,438.44 56.64,441.13 57.28,444.36 57.93,448.07 58.57,452.16 59.22,456.56 59.87,461.19 60.51,466 61.16,470.91 61.81,475.88 62.45,480.83 63.1,485.74 63.74,490.54 64.39,495.2 65.04,499.67 65.68,503.93 66.33,507.94 66.98,511.67 67.62,515.11 68.27,518.22 68.92,520.99 69.56,523.4 70.21,525.45 70.85,527.12 71.5,528.4 72.15,529.3 72.79,529.8 73.44,529.92 74.09,529.64 74.73,528.99 75.38,527.95 76.02,526.55 76.67,524.78 77.32,522.67 77.96,520.23 78.61,517.46 79.26,514.39 79.9,511.04 80.55,507.42 81.19,503.55 81.84,499.45 82.49,495.14 83.13,490.64 83.78,485.98 84.43,481.18 85.07,476.25 85.72,471.23 86.37,466.13 87.01,460.98 87.66,455.8 88.3,450.61 88.95,445.44 89.6,440.3 90.24,435.22 90.89,430.21 91.54,425.3 92.18,420.5 92.83,415.83 93.47,411.3 94.12,406.94 94.77,402.74 95.41,398.74 96.06,394.93 96.71,391.33 97.35,387.94 98,384.77 98.65,381.83 99.29,379.13 99.94,376.66 100.58,374.44 101.23,372.45 101.88,370.72 102.52,369.23 103.17,367.98 103.82,366.98 104.46,366.23 105.11,365.71 105.75,365.43 106.4,365.38 107.05,365.56 107.69,365.97 108.34,366.59 108.99,367.42 109.63,368.45 110.28,369.68 110.93,371.1 111.57,372.7 112.22,374.47 112.86,376.4 113.51,378.48 114.16,380.71 114.8,383.07 115.45,385.55 116.1,388.14 116.74,390.84 117.39,393.62 118.03,396.49 118.68,399.42 119.33,402.41 119.97,405.45 120.62,408.52 121.27,411.62 121.91,414.73 122.56,417.85 123.21,420.96 123.85,424.05 124.5,427.11 125.14,430.13 125.79,433.11 126.44,436.03 127.08,438.88 127.73,441.66 128.38,444.36 129.02,446.96 129.67,449.47 130.31,451.87 130.96,454.16 131.61,456.34 132.25,458.39 132.9,460.31 133.55,462.11 134.19,463.77 134.84,465.3 135.49,466.69 136.13,467.93 136.78,469.04 137.42,470.01 138.07,470.83 138.72,471.51 139.36,472.05 140.01,472.46 140.66,472.72 141.3,472.85 141.95,472.85 142.59,472.72 143.24,472.46 143.89,472.08 144.53,471.58 145.18,470.97 145.83,470.24 146.47,469.41 147.12,468.48 147.76,467.45 148.41,466.33 149.06,465.13 149.7,463.85 150.35,462.49 151,461.07 151.64,459.59 152.29,458.05 152.94,456.47 153.58,454.84 154.23,453.18 154.87,451.49 155.52,449.78 156.17,448.05 156.81,446.31 157.46,444.57 158.11,442.83 158.75,441.1 159.4,439.39 160.04,437.7 160.69,436.04 161.34,434.41 161.98,432.82 162.63,431.28 163.28,429.79 163.92,428.35 164.57,426.97 165.22,425.66 165.86,424.42 166.51,423.25 167.15,422.15 167.8,421.14 168.45,420.21 169.09,419.36 169.74,418.6 170.39,417.94 171.03,417.36 171.68,416.88 172.32,416.49 172.97,416.19 173.62,415.99 174.26,415.88 174.91,415.86 175.56,415.93 176.2,416.09 176.85,416.34 177.5,416.67 178.14,417.08 178.79,417.58 179.43,418.15 180.08,418.79 180.73,419.51 181.37,420.29 182.02,421.13 182.67,422.04 183.31,422.99 183.96,424 184.6,425.05 185.25,426.15 185.9,427.27 186.54,428.43 187.19,429.62 187.84,430.82 188.48,432.05 189.13,433.28 189.77,434.52 190.42,435.75 191.07,436.99 191.71,438.21 192.36,439.42 193.01,440.61 193.65,441.77 194.3,442.9 194.95,444 195.59,445.05 196.24,446.06 196.88,447.03 197.53,447.94 198.18,448.79 198.82,449.57 199.47,450.3 200.12,450.95 200.76,451.53 201.41,452.03 202.05,452.46 202.7,452.8 203.35,453.06 203.99,453.23 204.64,453.31 205.29,453.3 205.93,453.2 206.58,453.01 207.23,452.72 207.87,452.34 208.52,451.87 209.16,451.31 209.81,450.65 210.46,449.91 211.1,449.07 211.75,448.16 212.4,447.15 213.04,446.07 213.69,444.92 214.33,443.68 214.98,442.38 215.63,441.02 216.27,439.59 216.92,438.11 217.57,436.58 218.21,435.01 218.86,433.39 219.51,431.74 220.15,430.06 220.8,428.36 221.44,426.64 222.09,424.92 222.74,423.18 223.38,421.46 224.03,419.74 224.68,418.03 225.32,416.35 225.97,414.69 226.61,413.07 227.26,411.49 227.91,409.96 228.55,408.48 229.2,407.07 229.85,405.72 230.49,404.44 231.14,403.24 231.79,402.12 232.43,401.09 233.08,400.16 233.72,399.33 234.37,398.6 235.02,397.98 235.66,397.48 236.31,397.09 236.96,396.83 237.6,396.69 238.25,396.68 238.89,396.8 239.54,397.06 240.19,397.45 240.83,397.98 241.48,398.65 242.13,399.47 242.77,400.42 243.42,401.51 244.06,402.74 244.71,404.12 245.36,405.63 246,407.27 246.65,409.05 247.3,410.96 247.94,412.99 248.59,415.15 249.24,417.42 249.88,419.8 250.53,422.29 251.17,424.87 251.82,427.55 252.47,430.31 253.11,433.14 253.76,436.04 254.41,438.99 255.05,441.99 255.7,445.03 256.34,448.1 256.99,451.19 257.64,454.28 258.28,457.37 258.93,460.45 259.58,463.5 260.22,466.52 260.87,469.5 261.52,472.41 262.16,475.26 262.81,478.03 263.45,480.7 264.1,483.28 264.75,485.75 265.39,488.09 266.04,490.31 266.69,492.38 267.33,494.3 267.98,496.06 268.62,497.65 269.27,499.06 269.92,500.29 270.56,501.32 271.21,502.15 271.86,502.77 272.5,503.17 273.15,503.35 273.8,503.31 274.44,503.03 275.09,502.52 275.73,501.77 276.38,500.78 277.03,499.55 277.67,498.07 278.32,496.35 278.97,494.39 279.61,492.18 280.26,489.73 280.9,487.05 281.55,484.13 282.2,480.99 282.84,477.62 283.49,474.05 284.14,470.26 284.78,466.29 285.43,462.12 286.08,457.79 286.72,453.3 287.37,448.66 288.01,443.89 288.66,439.01 289.31,434.04 289.95,428.99 290.6,423.88 291.25,418.74 291.89,413.59 292.54,408.44 293.18,403.33 293.83,398.27 294.48,393.28 295.12,388.39 295.77,383.61 296.42,378.98 297.06,374.52 297.71,370.24 298.36,366.16 299,362.32 299.65,358.72 300.29,355.39 300.94,352.34 301.59,349.6 302.23,347.17 302.88,345.07 303.53,343.32 304.17,341.92 304.82,340.89 305.46,340.24 306.11,339.97 306.76,340.08 307.4,340.59 308.05,341.48 308.7,342.75 309.34,344.41 309.99,346.45 310.63,348.85 311.28,351.6 311.93,354.69 312.57,358.11 313.22,361.82 313.87,365.8 314.51,370.03 315.16,374.48 315.81,379.11 316.45,383.88 317.1,388.75 317.74,393.68 318.39,398.61 319.04,403.5 319.68,408.27 320.33,412.88 320.98,417.25 321.62,421.32 322.27,425 322.91,428.21 323.56,430.88 324.21,432.91 324.85,434.2 325.5,434.65" fill="none" stroke="#0000ff" stroke-width="2.1" stroke-linejoin="round" stroke-linecap="round"/>
<text transform="translate(54.05 561.4) scale(0.965 1)" font-size="17.6" text-anchor="middle">0</text>
<text transform="translate(118.68 561.4) scale(0.965 1)" font-size="17.6" text-anchor="middle">5</text>
<text transform="translate(183.31 561.4) scale(0.965 1)" font-size="17.6" text-anchor="middle">10</text>
<text transform="translate(247.94 561.4) scale(0.965 1)" font-size="17.6" text-anchor="middle">15</text>
<text transform="translate(312.57 561.4) scale(0.965 1)" font-size="17.6" text-anchor="middle">20</text>
<text transform="translate(47.65 339.9) scale(1.0 1)" font-size="17.6" text-anchor="end">2</text>
<text transform="translate(47.65 391.02) scale(1.0 1)" font-size="17.6" text-anchor="end">1</text>
<text transform="translate(47.65 442.15) scale(1.0 1)" font-size="17.6" text-anchor="end">0</text>
<text transform="translate(47.65 493.27) scale(1.0 1)" font-size="17.6" text-anchor="end">-1</text>
<text transform="translate(47.65 544.4) scale(1.0 1)" font-size="17.6" text-anchor="end">-2</text>
<text transform="translate(189.78 586.5) scale(1.0 0.958)" font-size="19.45" text-anchor="middle">Time (s)</text>
<text transform="translate(24.5 434.65) rotate(-90) scale(1 0.958)" font-size="19.3" text-anchor="middle">Acceleration (°/s<tspan dy="-8.4" font-size="15.83">2</tspan><tspan dy="8.4" dx="1.2">)</tspan></text>
</g>
<g>
<path d="M476.05 332.4V536.9M540.89 332.4V536.9M605.74 332.4V536.9M670.58 332.4V536.9M411.2 334.42H683.55M411.2 385.04H683.55M411.2 435.66H683.55M411.2 486.28H683.55" stroke="#d9d9d9" stroke-width="1" fill="none"/>
<path d="M411.2 332.4H683.55V536.9H411.2ZM411.2 536.9v-2.7M411.2 332.4v2.7M476.05 536.9v-2.7M476.05 332.4v2.7M540.89 536.9v-2.7M540.89 332.4v2.7M605.74 536.9v-2.7M605.74 332.4v2.7M670.58 536.9v-2.7M670.58 332.4v2.7M411.2 334.42h2.7M683.55 334.42h-2.7M411.2 385.04h2.7M683.55 385.04h-2.7M411.2 435.66h2.7M683.55 435.66h-2.7M411.2 486.28h2.7M683.55 486.28h-2.7M411.2 536.9h2.7M683.55 536.9h-2.7" stroke="#303030" stroke-width="1.2" fill="none" stroke-linecap="butt"/>
<polyline points="411.2,435.66 411.85,442.18 412.49,448.07 413.14,453.37 413.79,458.09 414.44,462.26 415.08,465.92 415.73,469.07 416.38,471.76 417.03,473.99 417.67,475.8 418.32,477.21 418.97,478.23 419.62,478.9 420.26,479.23 420.91,479.24 421.56,478.96 422.2,478.4 422.85,477.58 423.5,476.53 424.15,475.25 424.79,473.78 425.44,472.12 426.09,470.3 426.74,468.32 427.38,466.22 428.03,463.99 428.68,461.66 429.32,459.25 429.97,456.76 430.62,454.21 431.27,451.62 431.91,448.99 432.56,446.34 433.21,443.69 433.86,441.04 434.5,438.4 435.15,435.78 435.8,433.2 436.45,430.67 437.09,428.19 437.74,425.77 438.39,423.42 439.03,421.15 439.68,418.97 440.33,416.88 440.98,414.88 441.62,413 442.27,411.22 442.92,409.56 443.57,408.02 444.21,406.6 444.86,405.31 445.51,404.15 446.16,403.12 446.8,402.23 447.45,401.48 448.1,400.86 448.74,400.39 449.39,400.05 450.04,399.85 450.69,399.79 451.33,399.87 451.98,400.09 452.63,400.43 453.28,400.91 453.92,401.52 454.57,402.26 455.22,403.11 455.86,404.08 456.51,405.17 457.16,406.36 457.81,407.65 458.45,409.03 459.1,410.51 459.75,412.06 460.4,413.69 461.04,415.38 461.69,417.13 462.34,418.92 462.99,420.76 463.63,422.62 464.28,424.5 464.93,426.38 465.57,428.27 466.22,430.14 466.87,431.99 467.52,433.81 468.16,435.6 468.81,437.34 469.46,439.03 470.11,440.66 470.75,442.23 471.4,443.73 472.05,445.15 472.7,446.49 473.34,447.74 473.99,448.9 474.64,449.97 475.28,450.95 475.93,451.82 476.58,452.59 477.23,453.25 477.87,453.81 478.52,454.26 479.17,454.6 479.82,454.83 480.46,454.95 481.11,454.96 481.76,454.86 482.4,454.66 483.05,454.35 483.7,453.93 484.35,453.42 484.99,452.81 485.64,452.1 486.29,451.3 486.94,450.41 487.58,449.44 488.23,448.39 488.88,447.27 489.53,446.09 490.17,444.84 490.82,443.54 491.47,442.19 492.11,440.8 492.76,439.38 493.41,437.94 494.06,436.48 494.7,435.01 495.35,433.53 496,432.06 496.65,430.6 497.29,429.15 497.94,427.72 498.59,426.32 499.24,424.94 499.88,423.61 500.53,422.31 501.18,421.06 501.82,419.86 502.47,418.71 503.12,417.62 503.77,416.58 504.41,415.61 505.06,414.71 505.71,413.87 506.36,413.1 507,412.41 507.65,411.79 508.3,411.25 508.94,410.78 509.59,410.39 510.24,410.09 510.89,409.86 511.53,409.71 512.18,409.64 512.83,409.65 513.48,409.74 514.12,409.91 514.77,410.16 515.42,410.49 516.07,410.89 516.71,411.36 517.36,411.9 518.01,412.52 518.65,413.2 519.3,413.95 519.95,414.77 520.6,415.65 521.24,416.58 521.89,417.58 522.54,418.63 523.19,419.74 523.83,420.89 524.48,422.1 525.13,423.35 525.78,424.64 526.42,425.98 527.07,427.35 527.72,428.76 528.36,430.2 529.01,431.66 529.66,433.16 530.31,434.67 530.95,436.2 531.6,437.75 532.25,439.31 532.9,440.88 533.54,442.46 534.19,444.03 534.84,445.61 535.48,447.17 536.13,448.73 536.78,450.27 537.43,451.79 538.07,453.29 538.72,454.76 539.37,456.21 540.02,457.61 540.66,458.98 541.31,460.3 541.96,461.57 542.61,462.78 543.25,463.94 543.9,465.03 544.55,466.06 545.19,467.01 545.84,467.88 546.49,468.67 547.14,469.38 547.78,470 548.43,470.54 549.08,470.97 549.73,471.31 550.37,471.56 551.02,471.7 551.67,471.75 552.32,471.69 552.96,471.53 553.61,471.26 554.26,470.89 554.9,470.41 555.55,469.83 556.2,469.15 556.85,468.36 557.49,467.47 558.14,466.47 558.79,465.38 559.44,464.19 560.08,462.9 560.73,461.52 561.38,460.05 562.02,458.49 562.67,456.84 563.32,455.11 563.97,453.3 564.61,451.42 565.26,449.47 565.91,447.46 566.56,445.38 567.2,443.25 567.85,441.06 568.5,438.83 569.15,436.57 569.79,434.27 570.44,431.95 571.09,429.6 571.73,427.25 572.38,424.89 573.03,422.53 573.68,420.18 574.32,417.85 574.97,415.55 575.62,413.28 576.27,411.06 576.91,408.88 577.56,406.76 578.21,404.7 578.86,402.71 579.5,400.8 580.15,398.96 580.8,397.21 581.44,395.55 582.09,393.98 582.74,392.51 583.39,391.14 584.03,389.88 584.68,388.72 585.33,387.68 585.98,386.75 586.62,385.94 587.27,385.25 587.92,384.67 588.56,384.22 589.21,383.89 589.86,383.68 590.51,383.59 591.15,383.62 591.8,383.78 592.45,384.06 593.1,384.46 593.74,384.97 594.39,385.61 595.04,386.36 595.69,387.22 596.33,388.19 596.98,389.28 597.63,390.46 598.27,391.76 598.92,393.15 599.57,394.64 600.22,396.22 600.86,397.89 601.51,399.66 602.16,401.5 602.81,403.43 603.45,405.43 604.1,407.5 604.75,409.65 605.4,411.85 606.04,414.11 606.69,416.43 607.34,418.8 607.98,421.21 608.63,423.65 609.28,426.13 609.93,428.64 610.57,431.17 611.22,433.72 611.87,436.27 612.52,438.83 613.16,441.39 613.81,443.94 614.46,446.47 615.1,448.97 615.75,451.45 616.4,453.89 617.05,456.29 617.69,458.63 618.34,460.92 618.99,463.13 619.64,465.27 620.28,467.33 620.93,469.3 621.58,471.16 622.23,472.92 622.87,474.55 623.52,476.06 624.17,477.44 624.81,478.67 625.46,479.74 626.11,480.65 626.76,481.39 627.4,481.94 628.05,482.3 628.7,482.45 629.35,482.39 629.99,482.1 630.64,481.58 631.29,480.81 631.93,479.78 632.58,478.48 633.23,476.91 633.88,475.04 634.52,472.86 635.17,470.37 635.82,467.56 636.47,464.4 637.11,460.89 637.76,457.02 638.41,452.77 639.06,448.12 639.7,443.08 640.35,437.62" fill="none" stroke="#ff0000" stroke-width="2.1" stroke-linejoin="round" stroke-linecap="round"/>
<polyline points="411.2,435.66 411.85,453.38 412.5,469.03 413.15,482.73 413.79,494.57 414.44,504.65 415.09,513.08 415.74,519.95 416.39,525.35 417.04,529.37 417.68,532.11 418.33,533.64 418.98,534.06 419.63,533.45 420.28,531.89 420.93,529.45 421.58,526.21 422.22,522.24 422.87,517.62 423.52,512.42 424.17,506.7 424.82,500.52 425.47,493.95 426.11,487.05 426.76,479.88 427.41,472.49 428.06,464.93 428.71,457.27 429.36,449.53 430.01,441.78 430.65,434.06 431.3,426.41 431.95,418.86 432.6,411.47 433.25,404.26 433.9,397.26 434.54,390.51 435.19,384.04 435.84,377.87 436.49,372.02 437.14,366.53 437.79,361.41 438.44,356.67 439.08,352.34 439.73,348.42 440.38,344.93 441.03,341.88 441.68,339.27 442.33,337.11 442.97,335.39 443.62,334.13 444.27,333.31 444.92,332.93 445.57,332.99 446.22,333.48 446.86,334.38 447.51,335.68 448.16,337.37 448.81,339.43 449.46,341.83 450.11,344.56 450.76,347.6 451.4,350.9 452.05,354.46 452.7,358.25 453.35,362.24 454,366.41 454.65,370.73 455.29,375.2 455.94,379.78 456.59,384.45 457.24,389.2 457.89,394.01 458.54,398.86 459.19,403.72 459.83,408.59 460.48,413.45 461.13,418.27 461.78,423.06 462.43,427.78 463.08,432.43 463.72,437 464.37,441.46 465.02,445.82 465.67,450.05 466.32,454.15 466.97,458.11 467.62,461.92 468.26,465.56 468.91,469.03 469.56,472.33 470.21,475.45 470.86,478.37 471.51,481.1 472.15,483.62 472.8,485.94 473.45,488.05 474.1,489.95 474.75,491.64 475.4,493.11 476.05,494.36 476.69,495.39 477.34,496.21 477.99,496.81 478.64,497.19 479.29,497.35 479.94,497.31 480.58,497.06 481.23,496.61 481.88,495.95 482.53,495.1 483.18,494.06 483.83,492.84 484.48,491.45 485.12,489.89 485.77,488.17 486.42,486.3 487.07,484.29 487.72,482.15 488.37,479.89 489.01,477.53 489.66,475.07 490.31,472.52 490.96,469.91 491.61,467.24 492.26,464.52 492.9,461.76 493.55,458.98 494.2,456.18 494.85,453.37 495.5,450.57 496.15,447.78 496.8,445.02 497.44,442.28 498.09,439.58 498.74,436.93 499.39,434.33 500.04,431.79 500.69,429.32 501.33,426.92 501.98,424.6 502.63,422.37 503.28,420.23 503.93,418.18 504.58,416.24 505.23,414.4 505.87,412.67 506.52,411.05 507.17,409.54 507.82,408.16 508.47,406.89 509.12,405.75 509.76,404.74 510.41,403.85 511.06,403.08 511.71,402.45 512.36,401.94 513.01,401.57 513.66,401.32 514.3,401.2 514.95,401.2 515.6,401.33 516.25,401.59 516.9,401.97 517.55,402.46 518.19,403.08 518.84,403.81 519.49,404.64 520.14,405.59 520.79,406.63 521.44,407.78 522.09,409.01 522.73,410.34 523.38,411.74 524.03,413.23 524.68,414.78 525.33,416.39 525.98,418.07 526.62,419.79 527.27,421.55 527.92,423.35 528.57,425.17 529.22,427.01 529.87,428.86 530.52,430.71 531.16,432.55 531.81,434.37 532.46,436.18 533.11,437.96 533.76,439.71 534.41,441.41 535.05,443.07 535.7,444.68 536.35,446.23 537,447.72 537.65,449.14 538.3,450.49 538.95,451.77 539.59,452.97 540.24,454.09 540.89,455.12 541.54,456.06 542.19,456.91 542.84,457.67 543.48,458.33 544.13,458.89 544.78,459.36 545.43,459.72 546.08,459.98 546.73,460.14 547.38,460.2 548.02,460.15 548.67,460 549.32,459.75 549.97,459.4 550.62,458.94 551.27,458.39 551.91,457.74 552.56,456.99 553.21,456.15 553.86,455.22 554.51,454.2 555.16,453.09 555.8,451.9 556.45,450.63 557.1,449.29 557.75,447.88 558.4,446.4 559.05,444.85 559.7,443.25 560.34,441.6 560.99,439.9 561.64,438.16 562.29,436.39 562.94,434.59 563.59,432.77 564.23,430.93 564.88,429.09 565.53,427.24 566.18,425.41 566.83,423.59 567.48,421.8 568.13,420.04 568.77,418.32 569.42,416.64 570.07,415.03 570.72,413.48 571.37,411.99 572.02,410.59 572.66,409.26 573.31,408.02 573.96,406.88 574.61,405.83 575.26,404.88 575.91,404.04 576.56,403.3 577.2,402.69 577.85,402.18 578.5,401.8 579.15,401.54 579.8,401.4 580.45,401.38 581.09,401.49 581.74,401.73 582.39,402.1 583.04,402.59 583.69,403.22 584.34,403.97 584.99,404.85 585.63,405.85 586.28,406.98 586.93,408.23 587.58,409.6 588.23,411.09 588.88,412.69 589.52,414.41 590.17,416.24 590.82,418.17 591.47,420.19 592.12,422.32 592.77,424.54 593.42,426.84 594.06,429.22 594.71,431.67 595.36,434.19 596.01,436.78 596.66,439.41 597.31,442.1 597.95,444.82 598.6,447.57 599.25,450.34 599.9,453.13 600.55,455.92 601.2,458.7 601.85,461.47 602.49,464.21 603.14,466.92 603.79,469.58 604.44,472.18 605.09,474.71 605.74,477.16 606.38,479.51 607.03,481.76 607.68,483.89 608.33,485.89 608.98,487.76 609.63,489.47 610.27,491.03 610.92,492.42 611.57,493.64 612.22,494.67 612.87,495.52 613.52,496.18 614.17,496.64 614.81,496.89 615.46,496.94 616.11,496.78 616.76,496.4 617.41,495.81 618.06,495.01 618.7,493.99 619.35,492.75 620,491.29 620.65,489.62 621.3,487.74 621.95,485.65 622.6,483.34 623.24,480.84 623.89,478.13 624.54,475.23 625.19,472.14 625.84,468.87 626.49,465.42 627.13,461.8 627.78,458.02 628.43,454.09 629.08,450.02 629.73,445.81 630.38,441.49 631.03,437.05 631.67,432.52 632.32,427.89 632.97,423.2 633.62,418.45 634.27,413.65 634.92,408.83 635.56,403.99 636.21,399.16 636.86,394.34 637.51,389.56 638.16,384.84 638.81,380.2 639.46,375.64 640.1,371.21 640.75,366.91 641.4,362.76 642.05,358.8 642.7,355.04 643.35,351.5 643.99,348.21 644.64,345.2 645.29,342.48 645.94,340.09 646.59,338.04 647.24,336.36 647.89,335.06 648.53,334.17 649.18,333.68 649.83,333.62 650.48,333.99 651.13,334.8 651.78,336.06 652.42,337.76 653.07,339.91 653.72,342.5 654.37,345.53 655.02,349 655.67,352.89 656.32,357.19 656.96,361.9 657.61,366.99 658.26,372.45 658.91,378.25 659.56,384.38 660.21,390.81 660.85,397.52 661.5,404.47 662.15,411.64 662.8,418.98 663.45,426.48 664.1,434.08 664.74,441.76 665.39,449.46 666.04,457.14 666.69,464.76 667.34,472.27 667.99,479.61 668.64,486.74 669.28,493.59 669.93,500.12 670.58,506.26 671.23,511.94 671.88,517.12 672.53,521.71 673.17,525.65 673.82,528.87 674.47,531.29 675.12,532.84 675.77,533.45 676.42,533.04 677.07,531.51 677.71,528.79 678.36,524.79 679.01,519.42 679.66,512.6 680.31,504.22 680.96,494.2 681.6,482.44 682.25,468.82 682.9,453.27 683.55,435.66" fill="none" stroke="#0000ff" stroke-width="2.1" stroke-linejoin="round" stroke-linecap="round"/>
<text transform="translate(411.2 561.4) scale(0.965 1)" font-size="17.6" text-anchor="middle">0</text>
<text transform="translate(476.05 561.4) scale(0.965 1)" font-size="17.6" text-anchor="middle">5</text>
<text transform="translate(540.89 561.4) scale(0.965 1)" font-size="17.6" text-anchor="middle">10</text>
<text transform="translate(605.74 561.4) scale(0.965 1)" font-size="17.6" text-anchor="middle">15</text>
<text transform="translate(670.58 561.4) scale(0.965 1)" font-size="17.6" text-anchor="middle">20</text>
<text transform="translate(405 341.92) scale(1.0 1)" font-size="17.6" text-anchor="end">2</text>
<text transform="translate(405 392.54) scale(1.0 1)" font-size="17.6" text-anchor="end">1</text>
<text transform="translate(405 443.16) scale(1.0 1)" font-size="17.6" text-anchor="end">0</text>
<text transform="translate(405 493.78) scale(1.0 1)" font-size="17.6" text-anchor="end">-1</text>
<text transform="translate(405 544.4) scale(1.0 1)" font-size="17.6" text-anchor="end">-2</text>
<text transform="translate(547.38 586.5) scale(1.0 0.958)" font-size="19.45" text-anchor="middle">Time (s)</text>
<text transform="translate(381.3 434.65) rotate(-90) scale(1 0.958)" font-size="18.8" text-anchor="middle">Jerk (°/s<tspan dy="-8.4" font-size="15.42">3</tspan><tspan dy="8.4" dx="1.2">)</tspan></text>
</g>
<g><rect x="169.9" y="0.5" width="405.1" height="25.9" fill="#fff" stroke="#303030" stroke-width="1.2"/><path d="M175.6 13.4H234" stroke="#ff0000" stroke-width="2.1"/><path d="M371.7 13.4H429.8" stroke="#0000ff" stroke-width="2.1"/><text transform="translate(238.2 19.8) scale(1 0.958)" font-size="15.7">After optimization</text><text transform="translate(434.3 19.8) scale(1 0.958)" font-size="15.7">Before optimization</text></g>
</svg>
</body></html>
